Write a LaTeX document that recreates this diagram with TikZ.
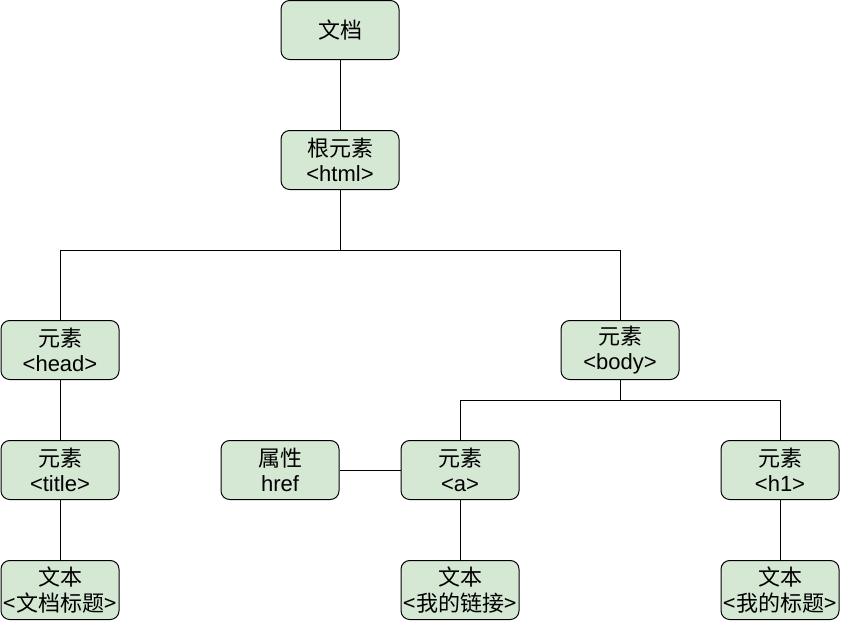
\documentclass[tikz,border=0pt]{standalone}
\usepackage{fontspec}
\setmainfont{Liberation Sans}
\newfontfamily\cjk{Noto Sans CJK SC}
\definecolor{boxfill}{HTML}{D5E8D4}
\begin{document}
\begin{tikzpicture}[x=0.75pt,y=-0.75pt,
  box/.style={draw=black,fill=boxfill,rounded corners=6.5pt,line width=0.75pt,
    minimum width=88.5pt,minimum height=44.25pt,inner sep=0pt,align=center,
    font=\fontsize{16.5pt}{19pt}\selectfont},
  link/.style={draw=black,line width=0.75pt}]
\useasboundingbox (0,0) rectangle (841,621);
\node[box] (doc) at (340,30) {\cjk 文档};
\node[box] (html) at (340,160) {\cjk 根元素\\<html>};
\node[box] (head) at (60,350) {\cjk 元素\\<head>};
\node[box] (body) at (620,350) {\cjk 元素\\<body>};
\node[box] (title) at (60,470) {\cjk 元素\\<title>};
\node[box] (href) at (280,470) {\cjk 属性\\href};
\node[box] (a) at (460,470) {\cjk 元素\\<a>};
\node[box] (h1) at (780,470) {\cjk 元素\\<h1>};
\node[box] (t1) at (60,590) {\cjk 文本\\{\cjk <文档标题>}};
\node[box] (t2) at (460,590) {\cjk 文本\\{\cjk <我的链接>}};
\node[box] (t3) at (780,590) {\cjk 文本\\{\cjk <我的标题>}};
\coordinate (j1) at (340,250);
\coordinate (j2) at (620,400);
\draw[link] (doc) -- (html);
\draw[link] (html.south) -- (j1) -| (head.north);
\draw[link] (j1) -| (body.north);
\draw[link] (body.south) -- (j2) -| (a.north);
\draw[link] (j2) -| (h1.north);
\draw[link] (href) -- (a);
\draw[link] (head) -- (title);
\draw[link] (title) -- (t1);
\draw[link] (a) -- (t2);
\draw[link] (h1) -- (t3);
\end{tikzpicture}
\end{document}
